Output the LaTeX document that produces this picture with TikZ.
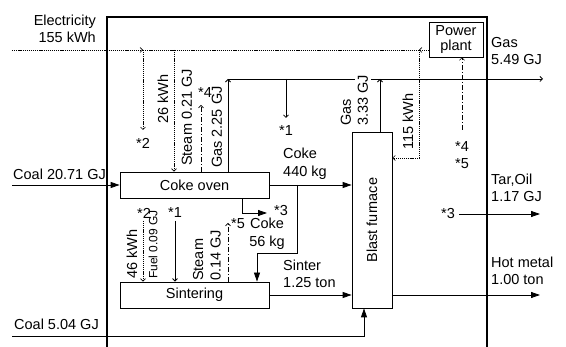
\documentclass[tikz,border=0pt]{standalone}
\usepackage{fontspec}
\usepackage{graphicx}
\setmainfont{Liberation Sans}
\usetikzlibrary{arrows.meta}
\tikzset{
  lbl/.style={inner sep=0pt, font=\fontsize{14.5}{17.5}\selectfont},
  small/.style={inner sep=0pt, font=\fontsize{12}{14}\selectfont},
  rot/.style={rotate=90, anchor=west},
  box/.style={draw, line width=0.8pt, inner sep=0pt, font=\fontsize{14.5}{16}\selectfont},
  frame/.style={line width=1.5pt},
  flow/.style={line width=0.8pt, -{Triangle[length=9pt,width=6pt]}},
  thin/.style={line width=0.8pt, -{Straight Barb[length=2.5pt,width=5pt]}},
  dotline/.style={line width=0.6pt, dash pattern=on 1.2pt off 0.9pt},
  dotarrow/.style={dotline, -{Straight Barb[length=2.5pt,width=5pt]}},
  dashdotarrow/.style={line width=0.6pt, dash pattern=on 5pt off 2pt on 1pt off 2pt, -{Straight Barb[length=2.5pt,width=5pt]}}
}
\begin{document}
\begin{tikzpicture}[x=1pt,y=-1pt]
\useasboundingbox (0,0) rectangle (566,347);
\fill[white] (0,0) rectangle (566,347);
% frame
\coordinate (fbl) at (107,347);
\coordinate (ftl) at (107,17);
\coordinate (ftr) at (487,17);
\coordinate (fbr) at (487,347);
\draw[frame] (fbl) -- (ftl) -- (ftr) -- (fbr);
% boxes
\node[box, minimum width=149pt, minimum height=26pt] (coke) at (194.5,185) {Coke oven};
\node[box, minimum width=149pt, minimum height=26pt] (sinter) at (194.5,295) {Sintering};
\node[box, minimum width=40pt, minimum height=176pt] (bf) at (372,220) {\rotatebox{90}{Blast furnace}};
\node[box, minimum width=54pt, minimum height=35pt, align=center] (pp) at (456,39.5) {Power\\[-1pt]plant};
% electricity
\coordinate (ein) at (12,50);
\coordinate (e1) at (143,50);
\coordinate (e2) at (419,50);
\coordinate (ppout) at (429,50);
\draw[dotarrow] (ein) -- (e1);
\draw[dotline] (e1) -- (e2);
\draw[dotarrow] (ppout) -- (e2);
\node[lbl, align=right, anchor=east] (elec) at (96,29) {Electricity\\155 kWh};
% 26 kWh
\coordinate (e1b) at (143,130);
\draw[dotarrow] (e1) -- (e1b);
\node[lbl] (st2a) at (143,143) {*2};
\node[lbl, rot] (kwh26) at (163,124) {26 kWh};
% steam 0.21
\coordinate (s1) at (174,50);
\draw[dotarrow] (s1) -- (s1 |- coke.north);
\node[lbl, rot] (st021) at (187,166) {Steam 0.21 GJ};
% *4
\coordinate (g4) at (201,105);
\draw[dashdotarrow] (g4 |- coke.north) -- (g4);
\node[lbl] (st4a) at (205,93) {*4};
% gas 2.25 and gas header
\coordinate (gc) at (228,79);
\coordinate (gend) at (543,79);
\draw[thin] (gc |- coke.north) -- (gc);
\draw[thin] (gc) -- (gend);
\node[lbl, rot] (gas225) at (217,168) {Gas 2.25 GJ};
% *1
\coordinate (g1) at (286,79);
\coordinate (g1e) at (286,118);
\draw[thin] (g1) -- (g1e);
\node[lbl] (st1a) at (286,131) {*1};
% blast furnace gas
\coordinate (bg) at (380,79);
\draw[thin] (bg |- bf.north) -- (bg);
\node[lbl, rot] (gasbf) at (346,126) {Gas};
\node[lbl, rot, fill=white, inner xsep=0pt, inner ysep=3pt] (gas333) at (363,126) {3.33 GJ};
% gas 5.49
\node[lbl, align=left, anchor=west] (gas549) at (491,51) {Gas\\5.49 GJ};
% 115 kWh
\coordinate (k1) at (419,158);
\draw[dotarrow] (e2) -- (k1) -- (k1 -| bf.east);
\node[lbl, rot] (kwh115) at (408,150) {115 kWh};
% *4 *5 to power plant
\coordinate (p45) at (462,130);
\draw[dashdotarrow] (p45) -- (p45 |- pp.south);
\node[lbl, align=center] (st45) at (462,155) {*4\\*5};
% coal in
\coordinate (c1) at (12,185);
\draw[flow] (c1) -- (coke.west);
\node[lbl, anchor=west] (coal1) at (13,174) {Coal 20.71 GJ};
% coke 440
\draw[flow] (coke.east) -- (coke.east -| bf.west);
\node[lbl, align=left, anchor=west] (coke440) at (283,164) {Coke\\440 kg};
% coke 56
\coordinate (k56a) at (297,185);
\coordinate (k56b) at (297,253);
\coordinate (k56c) at (257,253);
\draw[flow] (k56a) -- (k56b) -- (k56c) -- (k56c |- sinter.north);
\node[lbl, align=center] (coke56) at (267,234) {Coke\\56 kg};
% *3 from coke oven
\coordinate (t3) at (242,213);
\coordinate (t3e) at (267,213);
\draw[flow] (t3 |- coke.south) -- (t3) -- (t3e);
\node[lbl] (st3a) at (281,211) {*3};
% sinter
\draw[flow] (sinter.east) -- (sinter.east -| bf.west);
\node[lbl, align=left, anchor=west] (sinterl) at (283,274) {Sinter\\1.25 ton};
% coal 5.04
\coordinate (c2) at (12,336);
\coordinate (c2b) at (364,336);
\draw[flow] (c2) -- (c2b) -- (c2b |- bf.south);
\node[lbl, anchor=east] (coal2) at (99,324) {Coal 5.04 GJ};
% hot metal
\coordinate (hm) at (540,295);
\draw[flow] (sinter.east -| bf.east) -- (hm);
\node[lbl, align=left, anchor=west] (hml) at (491,271) {Hot metal\\1.00 ton};
% tar oil
\coordinate (ta) at (459,214);
\coordinate (tb) at (540,214);
\draw[flow] (ta) -- (tb);
\node[lbl] (st3b) at (448,214) {*3};
\node[lbl, align=left, anchor=west] (tar) at (491,188) {Tar,Oil\\1.17 GJ};
% sintering inputs
\coordinate (k46) at (143,221);
\draw[dotarrow] (k46) -- (k46 |- sinter.north);
\node[lbl] (st2b) at (144,213) {*2};
\node[lbl, rot] (kwh46) at (132,279) {46 kWh};
\coordinate (fu) at (175,221);
\draw[thin] (fu) -- (fu |- sinter.north);
\node[lbl] (st1b) at (175,213) {*1};
\node[small, rot] (fuel) at (153,279) {Fuel 0.09 GJ};
\coordinate (s5) at (228,223);
\draw[dashdotarrow] (s5 |- sinter.north) -- (s5);
\node[lbl] (st5) at (238,224) {*5};
\node[lbl, rotate=90, anchor=south west, align=left] (st014) at (221,281) {Steam\\0.14 GJ};
\end{tikzpicture}
\end{document}
